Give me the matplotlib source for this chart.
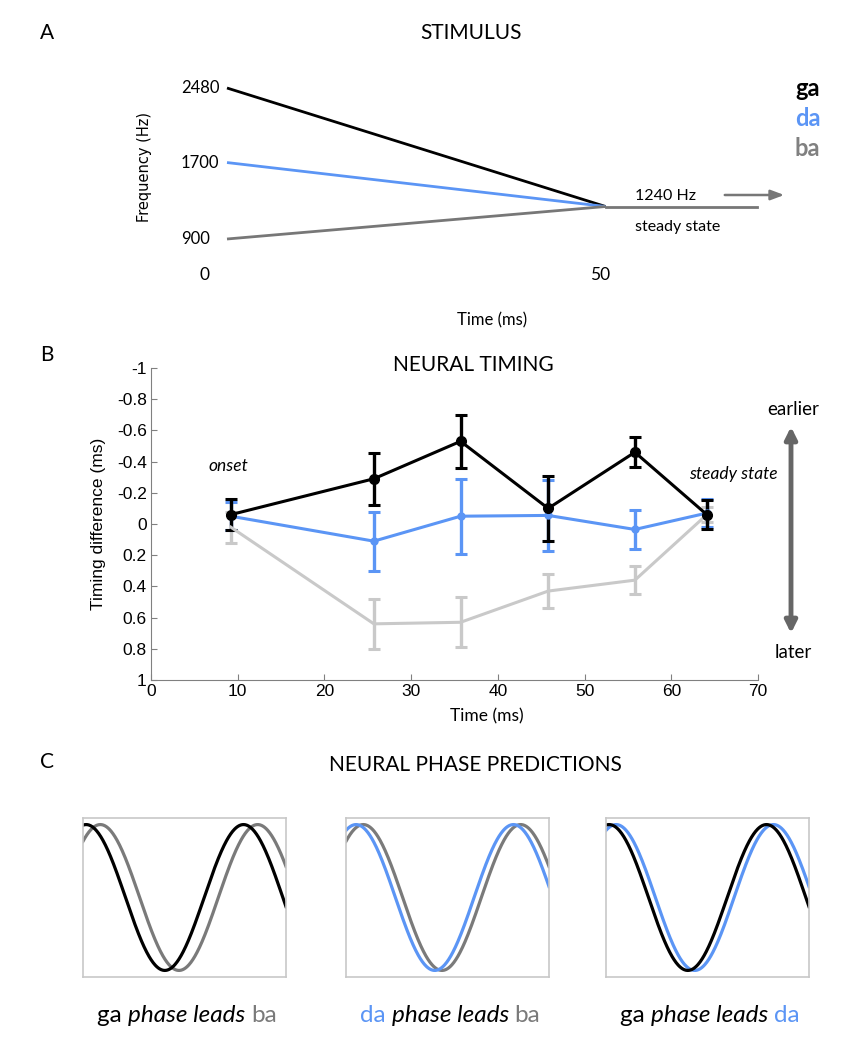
import numpy as np
import matplotlib
matplotlib.use("Agg")
import matplotlib.pyplot as plt

W, H = 842, 1050
BLACK = "#000000"
BLUE = "#5b95f5"
GRAY = "#7a7a7a"
LIGHT = "#c9c9c9"
CAL = "Lato"

# panel A: formant transitions
syllables = ["ga", "da", "ba"]
onset_hz = [2480, 1700, 900]
steady_hz = 1240
transition_ms = 50
end_ms = 70

# panel B: neural timing (ms)
times = [9.2, 25.7, 35.7, 45.8, 55.8, 64.1]
ga_diff = [-0.06, -0.29, -0.53, -0.10, -0.46, -0.06]
ga_err = [0.10, 0.165, 0.17, 0.21, 0.095, 0.095]
da_diff = [-0.05, 0.11, -0.05, -0.055, 0.035, -0.07]
da_err = [0.09, 0.19, 0.24, 0.225, 0.125, 0.09]
ba_diff = [0.02, 0.64, 0.63, 0.43, 0.36, -0.06]
ba_err = [0.10, 0.16, 0.16, 0.11, 0.09, 0.05]
y_ticks = [-1, -0.8, -0.6, -0.4, -0.2, 0, 0.2, 0.4, 0.6, 0.8, 1]
y_ticklabels = ["-1", "-0.8", "-0.6", "-0.4", "-0.2", "0", "0.2", "0.4", "0.6", "0.8", "1"]

# panel C: phase lag in cycles
phase_lag = {"ga": 0.02, "da": 0.064, "ba": 0.11}
n_cycles = 1.29
pairs = [("ga", "ba"), ("da", "ba"), ("ga", "da")]
colors = {"ga": BLACK, "da": BLUE, "ba": GRAY}


def px_axes(fig, x0, y0, x1, y1):
    return fig.add_axes([x0 / W, 1 - y1 / H, (x1 - x0) / W, (y1 - y0) / H])


def ftext(fig, x, y, s, **kw):
    fig.text(x / W, 1 - y / H, s, **kw)


def panel_a(fig):
    ax = px_axes(fig, 227, 88, 757, 239)
    ax.set_xlim(0, end_ms)
    ax.set_ylim(min(onset_hz), max(onset_hz))
    ax.axis("off")
    for s, hz in zip(syllables, onset_hz):
        ax.plot([0, transition_ms], [hz, steady_hz], color=colors[s] if s != "ba" else "#777777",
                lw=2, clip_on=False, solid_capstyle="butt")
        ax.annotate(str(hz), (0, hz), xytext=(-46, 0), textcoords="offset pixels",
                    ha="left", va="center", fontsize=12, family=CAL)
    ax.plot([transition_ms, end_ms], [steady_hz, steady_hz], color="#777777", lw=2, clip_on=False)
    ax.annotate("0", (0, min(onset_hz)), xytext=(-22, -36), textcoords="offset pixels",
                ha="center", va="center", fontsize=12.5, family=CAL)
    ax.annotate("50", (transition_ms, min(onset_hz)), xytext=(-5, -36), textcoords="offset pixels",
                ha="center", va="center", fontsize=12.5, family=CAL)
    ax.annotate("1240 Hz", (transition_ms, steady_hz), xytext=(60, 11), textcoords="offset pixels",
                ha="center", va="center", fontsize=11.5, family=CAL)
    ax.annotate("steady state", (transition_ms, steady_hz), xytext=(72, -20), textcoords="offset pixels",
                ha="center", va="center", fontsize=11.5, family=CAL)
    ax.annotate("", xy=(787 / W, 1 - 195 / H), xytext=(722 / W, 1 - 195 / H),
                xycoords="figure fraction",
                arrowprops=dict(arrowstyle="-|>,head_length=0.8,head_width=0.3", color="#777777", lw=1.8))
    for i, s in enumerate(syllables):
        ftext(fig, 795, 88 + 30 * i, s, ha="left", va="center", fontsize=17, fontweight="bold",
              color=colors[s] if s != "ba" else "#808080", family=CAL)
    ftext(fig, 144, 167, "Frequency (Hz)", rotation=90, ha="center", va="center", fontsize=10.5)
    ftext(fig, 492, 320, "Time (ms)", ha="center", va="center", fontsize=12, family=CAL)
    ftext(fig, 40, 33, "A", ha="left", va="center", fontsize=15, family=CAL)
    ftext(fig, 471, 33, "STIMULUS", ha="center", va="center", fontsize=15, family=CAL)


def panel_b(fig):
    ax = px_axes(fig, 151, 368, 758, 680)
    kw = dict(lw=2.2, elinewidth=2.4, capsize=4, capthick=2.2)
    ax.errorbar(times, ba_diff, yerr=ba_err, color=LIGHT, **kw)
    ax.errorbar(times, da_diff, yerr=da_err, color=BLUE, marker="o", ms=5, **kw)
    ax.errorbar(times, ga_diff, yerr=ga_err, color=BLACK, marker="o", ms=7, **kw)
    ax.set_xlim(0, 70)
    ax.set_ylim(1, -1)
    ax.set_xticks(range(0, 71, 10))
    ax.set_yticks(y_ticks)
    ax.set_yticklabels(y_ticklabels)
    for s in ["top", "right"]:
        ax.spines[s].set_visible(False)
    for s in ["left", "bottom"]:
        ax.spines[s].set_color("#808080")
    ax.tick_params(direction="in", length=4, color="#808080", labelsize=12.5, pad=3)
    for lab in ax.get_xticklabels() + ax.get_yticklabels():
        lab.set_family("Liberation Sans")
    ax.set_ylabel("Timing difference (ms)", fontsize=12.5, family="Liberation Sans", labelpad=8)
    ax.text(8.9, -0.37, "onset", style="italic", ha="center", va="center", fontsize=12.5, family=CAL)
    ax.text(67.2, -0.32, "steady state", style="italic", ha="center", va="center",
            fontsize=12.5, family=CAL, clip_on=False)
    ax.annotate("", xy=(791 / W, 1 - 424 / H), xytext=(791 / W, 1 - 636 / H),
                xycoords="figure fraction",
                arrowprops=dict(arrowstyle="<|-|>,head_length=0.7,head_width=0.35",
                                color="#666666", lw=3.5))
    ftext(fig, 793, 410, "earlier", ha="center", va="center", fontsize=13.5, family=CAL)
    ftext(fig, 793, 652, "later", ha="center", va="center", fontsize=13.5, family=CAL)
    ftext(fig, 487, 716, "Time (ms)", ha="center", va="center", fontsize=12.5, family=CAL)
    ftext(fig, 40, 355, "B", ha="left", va="center", fontsize=15, family=CAL)
    ftext(fig, 473, 365, "NEURAL TIMING", ha="center", va="center", fontsize=15, family=CAL)


def caption(fig, xc, y, pieces):
    r = fig.canvas.get_renderer()
    objs = [fig.text(0, 1 - y / H, s, color=c, style=st, fontsize=17.5, family=CAL, va="center")
            for s, c, st in pieces]
    widths = [o.get_window_extent(r).width for o in objs]
    x = xc - sum(widths) / 2
    for o, w in zip(objs, widths):
        o.set_x(x / W)
        x += w


def panel_c(fig):
    lefts = [83, 346, 606]
    x = np.linspace(0, n_cycles, 400)
    for left, (a, b) in zip(lefts, pairs):
        ax = px_axes(fig, left, 818, left + 203, 977)
        for s in (b, a):
            ax.plot(x, np.cos(2 * np.pi * (x - phase_lag[s])), color=colors[s], lw=2.3)
        ax.set_xlim(0, n_cycles)
        ax.set_ylim(-1.09, 1.09)
        ax.set_xticks([]); ax.set_yticks([])
        for sp in ax.spines.values():
            sp.set_color("#c8c8c8"); sp.set_linewidth(1.2)
        caption(fig, left + 104, 1016, [(a + " ", colors[a], "normal"),
                                         ("phase leads ", BLACK, "italic"),
                                         (b, colors[b], "normal")])
    ftext(fig, 40, 762, "C", ha="left", va="center", fontsize=15, family=CAL)
    ftext(fig, 475, 765, "NEURAL PHASE PREDICTIONS", ha="center", va="center", fontsize=15, family=CAL)


def main():
    fig = plt.figure(figsize=(W / 100, H / 100), dpi=100)
    panel_a(fig)
    panel_b(fig)
    panel_c(fig)
    fig.savefig("out.png", dpi=100)
    plt.close(fig)


if __name__ == "__main__":
    main()
